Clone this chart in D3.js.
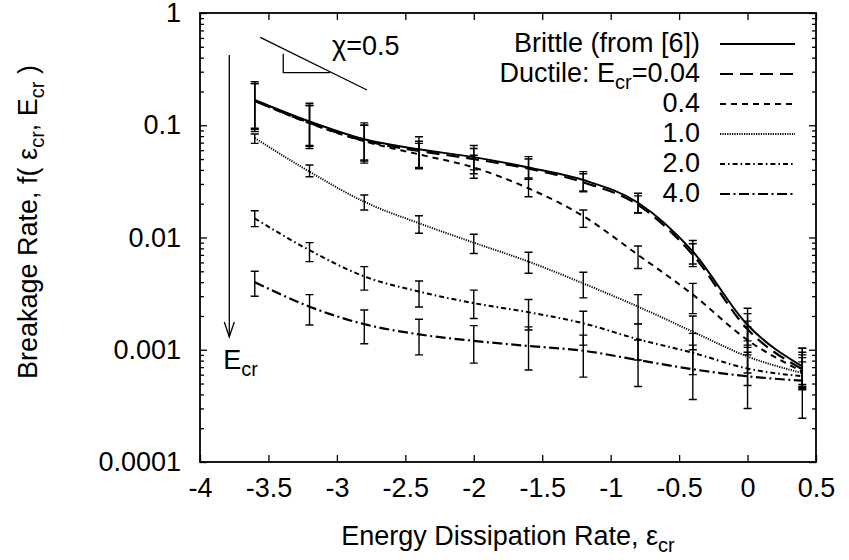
<!DOCTYPE html>
<html lang="en">
<head>
    <meta charset="UTF-8">
    <script src="https://d3js.org/d3.v7.min.js"></script>
    <style>
        body { margin: 0; background: #fff; }
        text { font-family: "Liberation Sans", Arial, sans-serif; fill: #000; }
    </style>
</head>
<body>
    <svg id="chart" width="849" height="560"></svg>

    <script>
        // energy dissipation rate (x) where the simulations were run
        const eps = [-3.6, -3.2, -2.8, -2.4, -2.0, -1.6, -1.2, -0.8, -0.4, 0.0, 0.4];

        // brittle (from [6])
        const brittle   = [0.168, 0.108, 0.075, 0.061, 0.052, 0.042, 0.0325, 0.0204, 0.0075, 0.00166, 0.00071];
        const brittleHi = [0.244, 0.157, 0.105, 0.079, 0.066, 0.0525, 0.0386, 0.0248, 0.0094, 0.00234, 0.00103];
        const brittleLo = [0.088, 0.062, 0.046, 0.041, 0.037, 0.033, 0.0256, 0.0166, 0.0058, 0.0011, 0.00049];

        // ductile, Ecr = 0.04
        const duct004   = [0.165, 0.105, 0.073, 0.059, 0.050, 0.041, 0.031, 0.0195, 0.0070, 0.00152, 0.00067];
        const duct004Hi = [0.235, 0.150, 0.100, 0.072, 0.062, 0.050, 0.037, 0.0235, 0.0088, 0.0021, 0.00095];
        const duct004Lo = [0.092, 0.065, 0.048, 0.042, 0.040, 0.034, 0.026, 0.0165, 0.0055, 0.00105, 0.00047];

        // ductile, Ecr = 0.4
        const duct04   = [0.165, 0.104, 0.072, 0.055, 0.042, 0.0274, 0.0155, 0.0070, 0.0031, 0.00122, 0.00064];
        const duct04Hi = [0.235, 0.150, 0.100, 0.069, 0.054, 0.033, 0.0176, 0.0084, 0.0039, 0.0016, 0.0009];
        const duct04Lo = [0.094, 0.066, 0.049, 0.0414, 0.0337, 0.0231, 0.0123, 0.0053, 0.0021, 0.0009, 0.00045];

        // ductile, Ecr = 1.0
        const duct1   = [0.077, 0.0386, 0.0208, 0.0134, 0.0090, 0.0061, 0.0039, 0.00242, 0.00145, 0.00087, 0.00062];
        const duct1Hi = [0.0836, 0.0442, 0.0239, 0.0156, 0.0107, 0.0074, 0.0049, 0.0031, 0.0020, 0.0012, 0.00085];
        const duct1Lo = [0.069, 0.0348, 0.0176, 0.0109, 0.0072, 0.0048, 0.0029, 0.0017, 0.0010, 0.00062, 0.00046];

        // ductile, Ecr = 2.0
        const duct2   = [0.0148, 0.0077, 0.0045, 0.0033, 0.0026, 0.00216, 0.00172, 0.00124, 0.00094, 0.00068, 0.00058];
        const duct2Hi = [0.0173, 0.0090, 0.0055, 0.0041, 0.0034, 0.0028, 0.0022, 0.0017, 0.0014, 0.00095, 0.00078];
        const duct2Lo = [0.0125, 0.0061, 0.0034, 0.0024, 0.0019, 0.0015, 0.0011, 0.00081, 0.0006, 0.00048, 0.00044];

        // ductile, Ecr = 4.0
        const duct4   = [0.0040, 0.00242, 0.00169, 0.00137, 0.0012, 0.00108, 0.00098, 0.00081, 0.00067, 0.00058, 0.00053];
        const duct4Hi = [0.0050, 0.0031, 0.00226, 0.00187, 0.00164, 0.0016, 0.00135, 0.00122, 0.0011, 0.0018, 0.00103];
        const duct4Lo = [0.0030, 0.00166, 0.00113, 0.0009, 0.00076, 0.00066, 0.00057, 0.00047, 0.00036, 0.0003, 0.000245];

        // axis ticks
        const xTicks = [-4, -3.5, -3, -2.5, -2, -1.5, -1, -0.5, 0, 0.5];
        const yTicks = [0.0001, 0.001, 0.01, 0.1, 1];
        const yTickLabels = ["0.0001", "0.001", "0.01", "0.1", "1"];

        const svg = d3.select("#chart");
        const margin = {top: 13, right: 33, bottom: 98, left: 200};
        const W = 849, H = 560;

        const x = d3.scaleLinear().domain([-4, 0.5]).range([margin.left, W - margin.right]);
        const y = d3.scaleLog().domain([1e-4, 1]).range([H - margin.bottom, margin.top]);

        // minor ticks 2..9 in every decade
        const yMinor = [];
        for (let e = -4; e < 0; e++) {
            for (let k = 2; k <= 9; k++) yMinor.push(k * Math.pow(10, e));
        }

        // axes, ticks pointing inwards (gnuplot style)
        const axisStyle = g => {
            g.select(".domain").remove();
            g.selectAll("line").attr("stroke", "#000").attr("stroke-width", 1.3);
            g.selectAll("text").style("font-size", "27px").attr("fill", "#000")
                .style("font-family", "'Liberation Sans', Arial, sans-serif");
        };

        svg.append("g")
            .attr("transform", `translate(0,${y.range()[0]})`)
            .call(d3.axisBottom(x).tickValues(xTicks).tickSize(-7).tickPadding(16).tickFormat(d => String(d)))
            .call(axisStyle);

        svg.append("g")
            .attr("transform", `translate(0,${y.range()[1]})`)
            .call(d3.axisTop(x).tickValues(xTicks).tickSize(-7).tickFormat(""))
            .call(axisStyle);

        svg.append("g")
            .attr("transform", `translate(${x.range()[0]},0)`)
            .call(d3.axisLeft(y).tickValues(yTicks).tickSize(-7).tickPadding(19)
                .tickFormat((d, i) => yTickLabels[i]))
            .call(axisStyle);

        svg.append("g")
            .attr("transform", `translate(${x.range()[0]},0)`)
            .call(d3.axisLeft(y).tickValues(yMinor).tickSize(-4).tickFormat(""))
            .call(axisStyle);

        svg.append("g")
            .attr("transform", `translate(${x.range()[1]},0)`)
            .call(d3.axisRight(y).tickValues(yTicks).tickSize(-7).tickFormat(""))
            .call(axisStyle);

        svg.append("g")
            .attr("transform", `translate(${x.range()[1]},0)`)
            .call(d3.axisRight(y).tickValues(yMinor).tickSize(-4).tickFormat(""))
            .call(axisStyle);

        // frame
        svg.append("rect")
            .attr("x", x.range()[0]).attr("y", y.range()[1])
            .attr("width", x.range()[1] - x.range()[0])
            .attr("height", y.range()[0] - y.range()[1])
            .attr("fill", "none").attr("stroke", "#000").attr("stroke-width", 1.8);

        // series table ("|" marks where the "cr" subscript goes)
        const series = [
            {label: "Brittle (from [6])", vals: brittle, lo: brittleLo, hi: brittleHi, dash: null, w: 2},
            {label: "Ductile: E|=0.04", vals: duct004, lo: duct004Lo, hi: duct004Hi, dash: "13,7", w: 2.2},
            {label: "0.4", vals: duct04, lo: duct04Lo, hi: duct04Hi, dash: "6,5", w: 2},
            {label: "1.0", vals: duct1, lo: duct1Lo, hi: duct1Hi, dash: "1.2,1.2", w: 1.9},
            {label: "2.0", vals: duct2, lo: duct2Lo, hi: duct2Hi, dash: "5,3,1.6,3", w: 2},
            {label: "4.0", vals: duct4, lo: duct4Lo, hi: duct4Hi, dash: "10,3.5,2,3.5", w: 2.2}
        ];

        const line = d3.line()
            .x(d => x(d[0]))
            .y(d => y(d[1]))
            .curve(d3.curveMonotoneX);

        const plot = svg.append("g");

        series.forEach(s => {
            const pts = eps.map((e, i) => [e, s.vals[i], s.lo[i], s.hi[i]]);

            const bars = plot.append("g").attr("stroke", "#000").attr("stroke-width", 1.4);
            bars.selectAll(".eb")
                .data(pts)
                .enter().append("path")
                .attr("class", "eb")
                .attr("fill", "none")
                .attr("d", d => {
                    const cx = x(d[0]), y1 = y(d[2]), y2 = y(d[3]);
                    return `M${cx},${y1}V${y2}M${cx - 4},${y1}H${cx + 4}M${cx - 4},${y2}H${cx + 4}`;
                });

            plot.append("path")
                .datum(pts)
                .attr("d", line)
                .attr("fill", "none")
                .attr("stroke", "#000")
                .attr("stroke-width", s.w)
                .attr("stroke-dasharray", s.dash);
        });

        // legend
        const legend = svg.append("g");
        const legX = 700, legRow0 = 52, legDy = 30;
        series.forEach((s, i) => {
            const by = legRow0 + i * legDy;
            const t = legend.append("text")
                .attr("x", legX).attr("y", by)
                .attr("text-anchor", "end")
                .style("font-size", "27px");
            if (s.label.includes("|")) {
                const parts = s.label.split("|");
                t.append("tspan").text(parts[0]);
                t.append("tspan").attr("dy", 7).style("font-size", "20px").text("cr");
                t.append("tspan").attr("dy", -7).text(parts[1]);
            } else {
                t.text(s.label);
            }
            legend.append("line")
                .attr("x1", 720).attr("x2", 795)
                .attr("y1", by - 8).attr("y2", by - 8)
                .attr("stroke", "#000")
                .attr("stroke-width", s.w)
                .attr("stroke-dasharray", s.dash);
        });

        // slope triangle annotation
        const ann = svg.append("g").attr("stroke", "#000").attr("stroke-width", 1.3).attr("fill", "none");
        ann.append("line")
            .attr("x1", x(-3.56)).attr("y1", y(0.607))
            .attr("x2", x(-2.78)).attr("y2", y(0.206));
        ann.append("path")
            .attr("d", `M${x(-3.392)},${y(0.433)}V${y(0.294)}H${x(-3.05)}`);
        svg.append("text")
            .attr("x", x(-3.035)).attr("y", y(0.422))
            .style("font-size", "27px")
            .text("\u03c7=0.5");

        // Ecr arrow
        const ax = x(-3.786);
        ann.append("line")
            .attr("x1", ax).attr("y1", y(0.422))
            .attr("x2", ax).attr("y2", y(0.0013));
        ann.append("path")
            .attr("d", `M${ax - 5},${y(0.0013) - 15}L${ax},${y(0.0013)}L${ax + 5},${y(0.0013) - 15}`);
        const et = svg.append("text")
            .attr("x", ax - 6).attr("y", y(0.0013) + 32)
            .style("font-size", "27px");
        et.append("tspan").text("E");
        et.append("tspan").attr("dy", 7).style("font-size", "20px").text("cr");

        // axis titles
        const xt = svg.append("text")
            .attr("x", (x.range()[0] + x.range()[1]) / 2)
            .attr("y", 545)
            .attr("text-anchor", "middle")
            .style("font-size", "27px");
        xt.append("tspan").text("Energy Dissipation Rate, \u03b5");
        xt.append("tspan").attr("dy", 7).style("font-size", "20px").text("cr");

        const yt = svg.append("text")
            .attr("transform", "rotate(-90)")
            .attr("x", -222)
            .attr("y", 37)
            .attr("text-anchor", "middle")
            .style("font-size", "27px");
        yt.append("tspan").text("Breakage Rate, f( \u03b5");
        yt.append("tspan").attr("dy", 7).style("font-size", "20px").text("cr");
        yt.append("tspan").attr("dy", -7).text(", E");
        yt.append("tspan").attr("dy", 7).style("font-size", "20px").text("cr");
        yt.append("tspan").attr("dy", -7).text(" )");
    </script>
</body>
</html>
